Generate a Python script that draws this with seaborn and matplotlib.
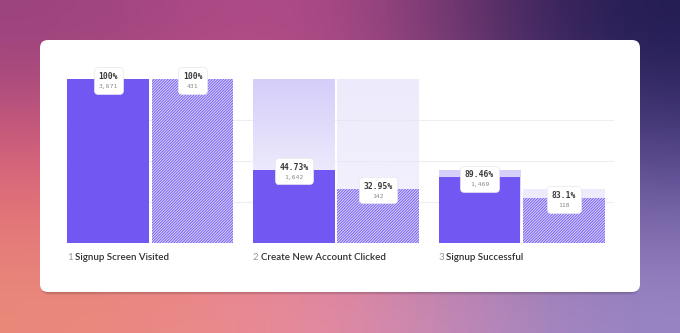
import numpy as np
import pandas as pd
import matplotlib
matplotlib.use("Agg")
import matplotlib.pyplot as plt
import seaborn as sns
from matplotlib.patches import FancyBboxPatch
from matplotlib.colors import to_rgb, LinearSegmentedColormap
from matplotlib.offsetbox import TextArea, VPacker, AnnotationBbox

# ---- data ----
steps = ["Signup Screen Visited", "Create New Account Clicked", "Signup Successful"]
step_numbers = ["1", "2", "3"]
segments = ["Overall", "Segment"]
overall_counts = [3671, 1642, 1469]
segment_counts = [431, 142, 118]
overall_pct_labels = ["100%", "44.73%", "89.46%"]
segment_pct_labels = ["100%", "32.95%", "83.1%"]
overall_count_labels = ["3,671", "1,642", "1,469"]
segment_count_labels = ["431", "142", "118"]

ov_h = [c / overall_counts[0] for c in overall_counts]
sg_h = [c / segment_counts[0] for c in segment_counts]
ov_ghost = [0.0] + ov_h[:-1]
sg_ghost = [0.0] + sg_h[:-1]

df = pd.DataFrame({
    "step": steps * 2,
    "segment": [segments[0]] * 3 + [segments[1]] * 3,
    "value": ov_h + sg_h,
})
df_ghost = pd.DataFrame({
    "step": steps * 2,
    "segment": [segments[0]] * 3 + [segments[1]] * 3,
    "value": ov_ghost + sg_ghost,
})

sns.set_theme(style="white")
plt.rcParams["font.family"] = ["Lato", "DejaVu Sans"]
plt.rcParams["hatch.linewidth"] = 0.7

W, H = 680, 333
fig = plt.figure(figsize=(W / 100, H / 100), dpi=100)

# ---- background gradient ----
bg = fig.add_axes([0, 0, 1, 1])
grid_colors = [
    ["#98427e", "#c4528f", "#1c1a50"],
    ["#de6478", "#d8688e", "#564a92"],
    ["#e98a78", "#ef8ca6", "#9686c6"],
]
img = np.array([[to_rgb(c) for c in row] for row in grid_colors])
bg.imshow(img, extent=[0, W, H, 0], interpolation="bicubic", aspect="auto", zorder=0)
bg.set_xlim(0, W)
bg.set_ylim(H, 0)
bg.axis("off")

# card shadow + card
for i, a in enumerate([0.05, 0.06, 0.08]):
    off = 3 - i
    bg.add_patch(FancyBboxPatch((40 + 1, 40 + off), 600 - 2, 252,
                                boxstyle="round,pad=0,rounding_size=8",
                                fc="black", ec="none", alpha=a, zorder=1))
bg.add_patch(FancyBboxPatch((40, 40), 600, 252, boxstyle="round,pad=0,rounding_size=8",
                            fc="white", ec="none", zorder=2))

# ---- main chart axes ----
x_left_px, x_right_px = 66, 614
y_top_px, y_bot_px = 79, 243
ax = fig.add_axes([x_left_px / W, (H - y_bot_px) / H,
                   (x_right_px - x_left_px) / W, (y_bot_px - y_top_px) / H])
ax.set_facecolor("none")

group_w = 0.909
gap = 0.035
purple = "#7357f2"

sns.barplot(data=df_ghost, x="step", y="value", hue="segment", hue_order=segments,
            order=steps, width=group_w, gap=gap, legend=False, ax=ax,
            palette=["#ffffff", "#ffffff"], saturation=1, errorbar=None)
sns.barplot(data=df, x="step", y="value", hue="segment", hue_order=segments,
            order=steps, width=group_w, gap=gap, legend=False, ax=ax,
            palette=[purple, purple], saturation=1, errorbar=None)

ghost_containers = ax.containers[:2]
value_containers = ax.containers[2:]

grad_cmap = LinearSegmentedColormap.from_list("g", ["#ffffff", "#d5cef9"])
grad = np.linspace(1, 0, 100).reshape(-1, 1)

for si, cont in enumerate(ghost_containers):
    for p in cont.patches:
        h = p.get_height()
        x0 = p.get_x()
        w = p.get_width()
        if h <= 0:
            p.set_visible(False)
            continue
        p.set_zorder(2)
        if si == 0:
            p.set_facecolor("none")
            p.set_edgecolor("none")
            im = ax.imshow(grad, extent=[x0, x0 + w, 0, h], cmap=grad_cmap,
                           aspect="auto", zorder=1.5, vmin=0, vmax=1)
        else:
            p.set_facecolor("none")
            p.set_edgecolor("#e9e6fb")
            p.set_linewidth(0)
            p.set_hatch("////////////")
            im = ax.imshow(grad, extent=[x0, x0 + w, 0, h], cmap=grad_cmap,
                           aspect="auto", zorder=1.5, vmin=0, vmax=1, alpha=0.3)
        im.set_clip_path(p)

for si, cont in enumerate(value_containers):
    for p in cont.patches:
        p.set_zorder(3)
        p.set_linewidth(0)
        if si == 1:
            p.set_facecolor("#dcd6fb")
            p.set_edgecolor("#7a60f2")
            p.set_hatch("////////////")
        else:
            p.set_facecolor(purple)
            p.set_edgecolor(purple)

# labels on bars
pct_labels = [overall_pct_labels, segment_pct_labels]
cnt_labels = [overall_count_labels, segment_count_labels]
for si, cont in enumerate(value_containers):
    for j, p in enumerate(cont.patches):
        cx = p.get_x() + p.get_width() / 2
        top = p.get_height()
        t1 = TextArea(pct_labels[si][j], textprops=dict(family="DejaVu Sans Mono",
                                                        fontsize=5.8, color="#3a3a3a",
                                                        fontweight="bold"))
        t2 = TextArea(cnt_labels[si][j], textprops=dict(family="DejaVu Sans Mono",
                                                        fontsize=4.6, color="#8a8a8a"))
        vp = VPacker(children=[t1, t2], align="center", pad=0, sep=2.2)
        ab = AnnotationBbox(vp, (cx, top), xybox=(0, -1), xycoords="data",
                            boxcoords="offset points", frameon=True,
                            box_alignment=(0.5, 0.5), pad=0.3,
                            bboxprops=dict(boxstyle="round,pad=0.3,rounding_size=0.25",
                                           fc="white", ec="#e8e8ec", lw=0.5),
                            annotation_clip=False, zorder=5)
        ax.add_artist(ab)

# category labels
for i, (num, name) in enumerate(zip(step_numbers, steps)):
    xl = i - group_w / 2
    ax.annotate(num, (xl, 0), xytext=(1, -14), textcoords="offset pixels",
                ha="left", va="center", fontsize=7, color="#9a9a9a",
                annotation_clip=False)
    ax.annotate(name, (xl, 0), xytext=(9, -14), textcoords="offset pixels",
                ha="left", va="center", fontsize=7, color="#2f2f33",
                fontweight="semibold", annotation_clip=False)

ax.set_xlim(-group_w / 2, 2 + group_w / 2 + 8 / 186)
ax.set_ylim(0, 1)
ax.set_yticks([0.25, 0.5, 0.75])
ax.yaxis.grid(True, color="#eeeef2", lw=0.8, zorder=0)
ax.set_axisbelow(True)
ax.tick_params(left=False, bottom=False, labelleft=False, labelbottom=False)
ax.set_xlabel("")
ax.set_ylabel("")
for s in ax.spines.values():
    s.set_visible(False)

fig.savefig("out.png", dpi=100)
